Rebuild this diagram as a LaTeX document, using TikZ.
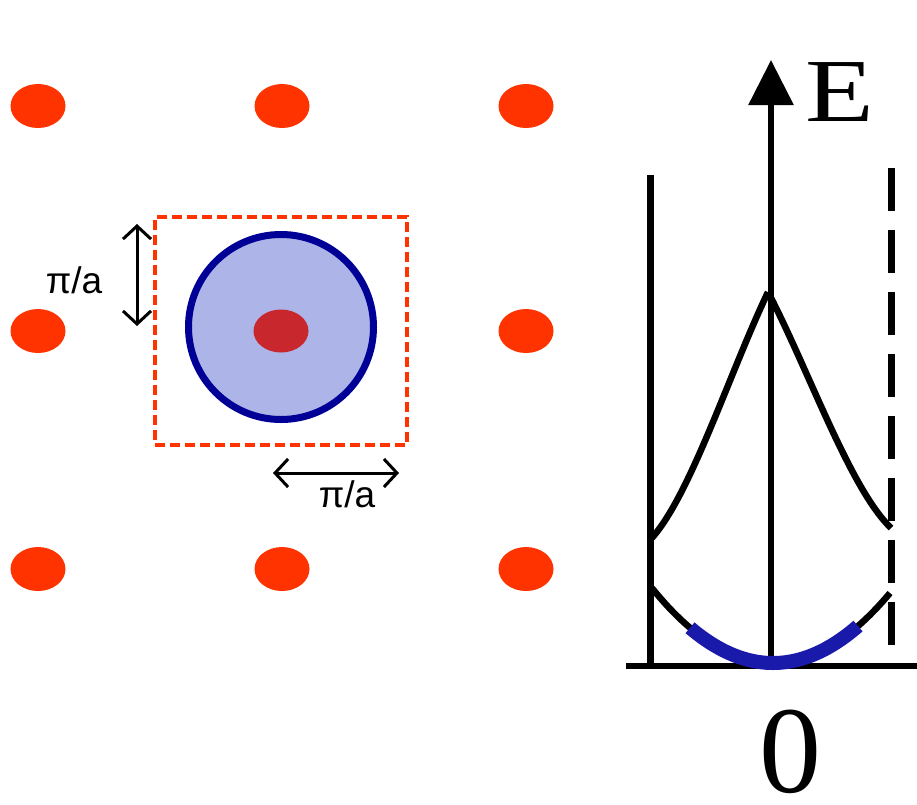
\documentclass[tikz,border=0pt]{standalone}
\usepackage{fontspec}
\setmainfont{Liberation Sans}
\newfontfamily\scanserif{Liberation Serif}
\usetikzlibrary{arrows.meta,shapes.geometric}
\definecolor{dotred}{RGB}{255,51,0}
\definecolor{navyline}{RGB}{0,0,150}
\definecolor{fillblue}{RGB}{172,180,232}
\definecolor{corered}{RGB}{200,40,45}
\definecolor{bandblue}{RGB}{25,25,170}
\begin{document}
\begin{tikzpicture}[x=1pt,y=-1pt,
  latdot/.style={ellipse,fill=dotred,draw=none,minimum width=55pt,minimum height=44pt,inner sep=0pt},
  coredot/.style={ellipse,fill=corered,draw=none,minimum width=55pt,minimum height=43pt,inner sep=0pt},
  zonebox/.style={draw=dotred,line width=4.5pt,dash pattern=on 10pt off 5pt},
  sphere/.style={circle,draw=navyline,fill=fillblue,line width=7pt,minimum size=185pt,inner sep=0pt},
  dimarrow/.style={line width=3pt,{Straight Barb[length=13pt,width=28pt,line width=3pt]}-{Straight Barb[length=13pt,width=28pt,line width=3pt]}},
  lab/.style={font=\fontsize{37}{40}\selectfont,inner sep=0pt},
  band/.style={line width=6.5pt,black},
  scanline/.style={line width=7pt,black}]
\useasboundingbox (0,0) rectangle (917,804);
% lattice
\node[latdot] (d11) at (38,106) {};
\node[latdot] (d12) at (282,106) {};
\node[latdot] (d13) at (526,106) {};
\node[latdot] (d21) at (38,331) {};
\node[latdot] (d23) at (526,331) {};
\node[latdot] (d31) at (38,569) {};
\node[latdot] (d32) at (282,569) {};
\node[latdot] (d33) at (526,569) {};
% zone
\node[zonebox,minimum width=252pt,minimum height=228pt,inner sep=0pt] (zone) at (281,331) {};
\node[sphere] (sph) at (281,327) {};
\node[coredot] (core) at (281,331) {};
% dimension arrows
\coordinate (va1) at (137,224);
\coordinate (va2) at (137,326);
\draw[dimarrow] (va1) -- (va2);
\node[lab] (lv) at (74,280) {π/a};
\coordinate (ha1) at (273,473);
\coordinate (ha2) at (399,473);
\draw[dimarrow] (ha1) -- (ha2);
\node[lab] (lh) at (347,494) {π/a};
% band diagram
\coordinate (ax0) at (771,666);
\coordinate (axt) at (771,60);
\coordinate (hx0) at (626,666);
\coordinate (hx1) at (917,666);
\draw[line width=6pt] (hx0) -- (hx1);
\draw[line width=6pt,-{Triangle[length=45pt,width=44pt]}] (ax0) -- (axt);
\coordinate (lb0) at (650,667);
\coordinate (lb1) at (650,175);
\draw[scanline] (lb0) -- (lb1);
\coordinate (rb0) at (891,667);
\coordinate (rb1) at (891,168);
\draw[scanline,dash pattern=on 43pt off 19pt] (rb1) -- (rb0);
% upper band
\draw[band,line join=round] plot[domain=0:1,samples=50,variable=\u] ({650+118*\u},{540-248*(\u-0.5*\u*(1-\u)^2)});
\draw[band,line join=round] plot[domain=0:1,samples=50,variable=\u] ({891-123*\u},{528-236*(\u-0.5*\u*(1-\u)^2)});
% lower band
\draw[band] plot[domain=652:890,samples=60,variable=\x] (\x,{663-70*((\x-773)/117)^2});
\draw[line width=14pt,bandblue] plot[domain=690:858,samples=50,variable=\x] (\x,{663-70*((\x-773)/117)^2});
\node[font=\scanserif\fontsize{90}{90}\selectfont,xscale=1.25,inner sep=0pt] (E) at (840,92) {E};
\node[font=\scanserif\fontsize{124}{124}\selectfont,inner sep=0pt,anchor=base] (zero) at (790,792) {0};
\end{tikzpicture}
\end{document}
